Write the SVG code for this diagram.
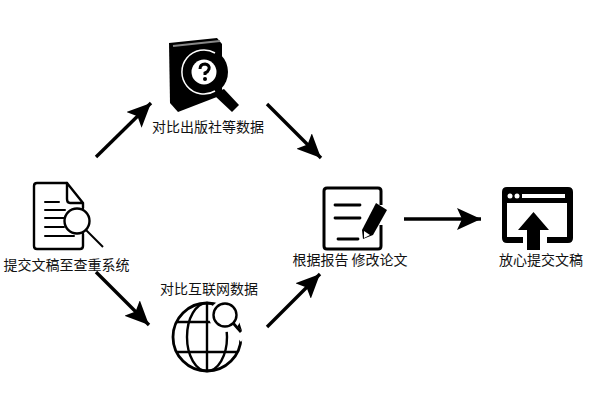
<svg xmlns="http://www.w3.org/2000/svg" width="600" height="412" viewBox="0 0 600 412">
<style>
text{font-family:"Noto Sans CJK SC","Liberation Sans",sans-serif;font-size:14px;fill:#111;text-anchor:middle}
.c{fill:none;stroke:#000;stroke-width:3.4}
.o{fill:none;stroke:#000;stroke-width:2.4;stroke-linecap:round;stroke-linejoin:round}
.t{fill:none;stroke:#000;stroke-width:2;stroke-linecap:round}
.k{fill:none;stroke:#000;stroke-width:2.800;stroke-linecap:round}
</style>
<defs><marker id="a" markerUnits="userSpaceOnUse" markerWidth="25" markerHeight="22" refX="24" refY="11" orient="auto"><path d="M0 0L24 11L0 22L5 11Z" fill="#000"/></marker></defs>
<rect width="600" height="412" fill="#fff"/>
<g id="connectors">
<line class="c" x1="96" y1="157" x2="151" y2="103" marker-end="url(#a)"/>
<line class="c" x1="267" y1="104" x2="321" y2="158" marker-end="url(#a)"/>
<line class="c" x1="96" y1="272" x2="149" y2="325" marker-end="url(#a)"/>
<line class="c" x1="267" y1="327" x2="320" y2="274" marker-end="url(#a)"/>
<line class="c" x1="404" y1="219" x2="481" y2="219" marker-end="url(#a)"/>
</g>
<g id="n1">
<path class="o" d="M67 183H37Q34 183 34 186V246Q34 249 37 249H80Q83 249 83 246V234"/>
<path class="o" d="M83 208V203L67 183V199Q67 203 70 203H83"/>
<path class="t" d="M45 202H59M45 210H65M45 218H64M45 227H64M45 236H74"/>
<circle cx="77" cy="221" r="12.500" fill="none" stroke="#000" stroke-width="2.400"/>
<line x1="86" y1="230" x2="103" y2="247" stroke="#000" stroke-width="2"/>
<text x="66.500" y="270">提交文稿至查重系统</text>
</g>
<g id="n2">
<path d="M169 43L217 38L222 44V95L178 112L170 103Z" fill="#000"/>
<path d="M173 46L220 41" stroke="#888" stroke-width="2" fill="none"/>
<circle cx="204" cy="72" r="24" fill="#000"/>
<path d="M215 53A22 22 0 1 0 215 91" fill="none" stroke="#fff" stroke-width="1.500"/>
<circle cx="204" cy="72" r="12.500" fill="#fff"/>
<path d="M200 69Q200 64 205 64Q210 65 209 69Q208 72 205 73V75" fill="none" stroke="#000" stroke-width="3"/>
<circle cx="205" cy="79" r="2" fill="#000"/>
<path d="M219 91L224 89L239 105L232 112L215 96Z" fill="#000"/>
<text x="208" y="132">对比出版社等数据</text>
</g>
<g id="n3">
<circle cx="207" cy="337" r="34" fill="none" stroke="#000" stroke-width="2.800"/>
<ellipse cx="207" cy="337" rx="20" ry="34" fill="none" stroke="#000" stroke-width="2.400"/>
<path d="M207 303V371M177 322H237M177 352H237" stroke="#000" stroke-width="2.400" fill="none"/>
<circle cx="225" cy="316" r="16" fill="#fff"/>
<path d="M238 327L246 335L241 342L235 335Z" fill="#fff"/>
<circle cx="225" cy="315" r="11.500" fill="none" stroke="#000" stroke-width="2.400"/>
<line x1="233" y1="323" x2="241" y2="332" stroke="#000" stroke-width="2.800"/>
<text x="209" y="294">对比互联网数据</text>
</g>
<g id="n4">
<path d="M381 205V191Q381 188 378 188H327Q324 188 324 191V246Q324 249 327 249H378Q381 249 381 246V225" fill="none" stroke="#000" stroke-width="3"/>
<path class="k" d="M335 205H360M335 218H360M338 239H358"/>
<path d="M376 203L387 210L373 235L363 239L362 230Z" fill="#000"/>
<path d="M364 231L370 235L364 238Z" fill="#fff"/>
<text x="350" y="265">根据报告 修改论文</text>
</g>
<g id="n5">
<path d="M507 187H568Q573 187 573 192V238Q573 243 568 243H547V237H567V203H507V237H523V243H507Q502 243 502 238V192Q502 187 507 187Z" fill="#000"/>
<circle cx="510" cy="196" r="2.500" fill="#fff"/>
<circle cx="517" cy="196" r="2.500" fill="#fff"/>
<rect x="522" y="194" width="43" height="4" fill="#fff"/>
<path d="M533.500 212L549 230H540V250H527V230H518Z" fill="#000"/>
<text x="541" y="265">放心提交文稿</text>
</g>
</svg>
